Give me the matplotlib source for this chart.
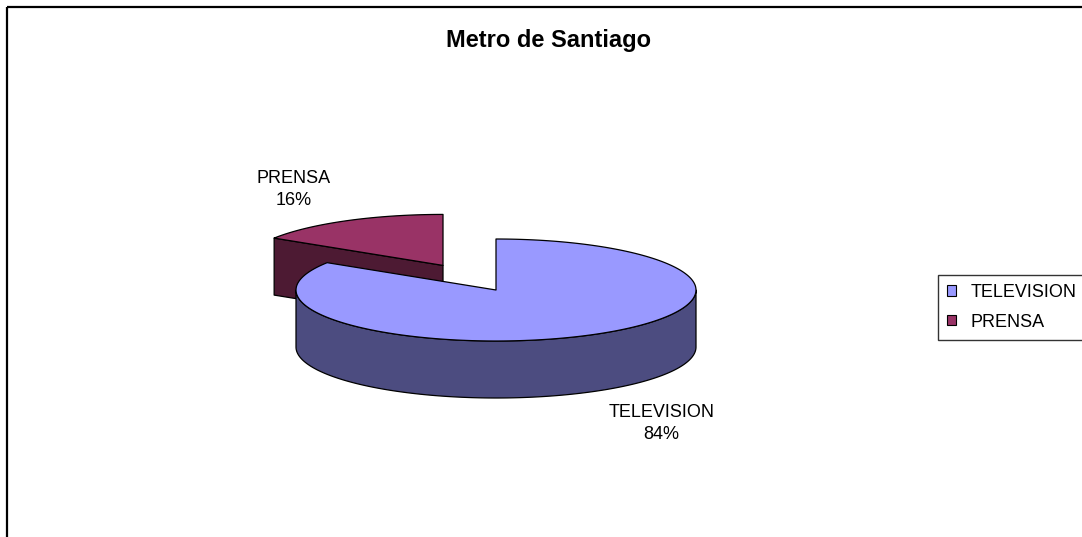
import numpy as np
import matplotlib
matplotlib.use("Agg")
import matplotlib.pyplot as plt
from matplotlib.patches import Polygon, Patch, Rectangle

labels = ["TELEVISION", "PRENSA"]
values = [84, 16]
top_colors = ["#9999FF", "#993366"]
side_colors = ["#4C4C80", "#4D1A33"]
explode = [0.0, 0.55]

plt.rcParams['font.family'] = ['Liberation Sans', 'DejaVu Sans']

W, H = 1082, 537
fig = plt.figure(figsize=(W / 100, H / 100), dpi=100)
ax = fig.add_axes([0, 0, 1, 1])
ax.set_xlim(0, W)
ax.set_ylim(H, 0)
ax.axis('off')

# pie geometry (pixel units)
cx, cy = 496, 290
rx, ry = 200, 51
depth = 57
gap_x, gap_y = 16, 12


def arc(a0, a1, ox, oy, dz=0.0, n=200):
    a = np.linspace(a0, a1, n)
    return np.column_stack([ox + rx * np.cos(a), oy - ry * np.sin(a) + dz])


def front_ranges(a_lo, a_hi):
    # parts of [a_lo, a_hi] where sin < 0 (front of the cylinder)
    out = []
    for k in range(-2, 3):
        lo, hi = -np.pi + 2 * np.pi * k, 2 * np.pi * k
        s, e = max(lo, a_lo), min(hi, a_hi)
        if e > s:
            out.append((s, e))
    return out


total = sum(values)
slices = []
start = np.pi / 2
for lab, v, tc, sc, ex in zip(labels, values, top_colors, side_colors, explode):
    end = start - 2 * np.pi * v / total
    mid = (start + end) / 2
    ox = cx + ex * rx * np.cos(mid)
    oy = cy - ex * ry * np.sin(mid)
    slices.append(dict(label=lab, value=v, a_s=start, a_e=end, mid=mid,
                       ox=ox, oy=oy, top=tc, side=sc))
    start = end

kw = dict(edgecolor='black', linewidth=0.9, joinstyle='round')

# back slices first
for s in sorted(slices, key=lambda d: -np.sin(d['mid'])):
    ox, oy = s['ox'], s['oy']
    # radial faces
    for a, vis in ((s['a_s'], np.cos(s['a_s']) < -1e-6), (s['a_e'], np.cos(s['a_e']) > 1e-6)):
        if vis:
            ex_, ey_ = ox + rx * np.cos(a), oy - ry * np.sin(a)
            face = [(ox, oy), (ex_, ey_), (ex_, ey_ + depth), (ox, oy + depth)]
            ax.add_patch(Polygon(face, closed=True, facecolor=s['side'], **kw))
    # outer side
    for lo, hi in front_ranges(s['a_e'], s['a_s']):
        t = arc(lo, hi, ox, oy)
        b = arc(hi, lo, ox, oy, depth)
        ax.add_patch(Polygon(np.vstack([t, b]), closed=True, facecolor=s['side'], **kw))
    # top
    top = np.vstack([[(ox, oy)], arc(s['a_s'], s['a_e'], ox, oy)])
    ax.add_patch(Polygon(top, closed=True, facecolor=s['top'], **kw))

    # data label, anchored just outside the rim point at the mid angle
    c, sn = np.cos(s['mid']), np.sin(s['mid'])
    px = ox + rx * c
    py = oy - ry * sn + (depth if sn < 0 else 0)
    lx = px + (gap_x if c >= 0 else -gap_x)
    ly = py + (gap_y if sn < 0 else -gap_y)
    pct = round(100 * s['value'] / total)
    ax.text(lx, ly, f"{s['label']}\n{pct}%", ha='center', multialignment='center',
            va='top' if sn < 0 else 'bottom', fontsize=13, linespacing=1.4,
            transform=ax.transData)
    t = ax.texts[-1]
    t.set_horizontalalignment('left' if c >= 0 else 'right')

# chart border (cut off at right and bottom)
ax.add_patch(Rectangle((7, 7), W + 50, H + 50, fill=False, edgecolor='black',
                       linewidth=1.6, clip_on=True))

fig.text(549 / W, 1 - 41 / H, "Metro de Santiago", ha='center', va='center',
         fontsize=17, fontweight='bold')

handles = [Patch(facecolor=c, edgecolor='black', linewidth=0.8) for c in top_colors]
leg = fig.legend(handles, labels, loc='upper left',
                 bbox_to_anchor=(938 / W, 1 - 275 / H), frameon=True,
                 fancybox=False, edgecolor='black', fontsize=13,
                 handlelength=0.5, handleheight=0.5, handletextpad=0.8,
                 labelspacing=0.7, borderpad=0.5, borderaxespad=0)
leg.get_frame().set_linewidth(1.0)

fig.savefig("out.png", dpi=100)
